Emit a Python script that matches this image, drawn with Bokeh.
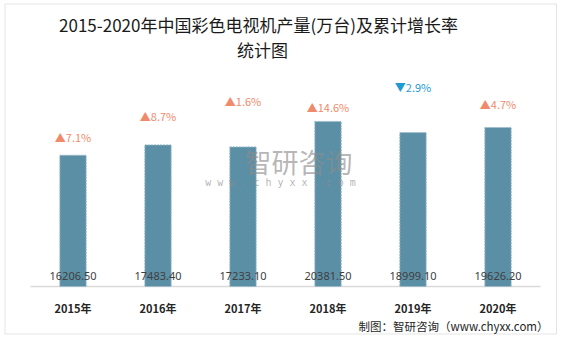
from bokeh.plotting import figure
from bokeh.models import ColumnDataSource, LabelSet, Label, BoxAnnotation, Range1d
from bokeh.core.properties import value
from bokeh.embed import file_html
from bokeh.resources import INLINE

# ---- data ----
years = ["2015年", "2016年", "2017年", "2018年", "2019年", "2020年"]
output = [16206.50, 17483.40, 17233.10, 20381.50, 18999.10, 19626.20]   # 万台
growth = [7.1, 8.7, 1.6, 14.6, -2.9, 4.7]                                 # %
rate_label_anchor = [18400, 21000, 22960, 22100, 24570, 22590]            # hidden series carrying the % labels

# ---- layout constants (pixels) ----
W, H = 562, 338
FL, FR, FT, FB = 30, 540, 60, 286     # plotting band of the category axis / value axis
Y_TOP = 27900                          # value at FT


def dy(py):
    return (FB - py) * Y_TOP / (FB - FT)


def dx(px):
    return (px - FL) * len(years) / (FR - FL)


up_c, down_c = "#F08A6C", "#1E9AD6"
xc = [i + 0.5 for i in range(len(years))]
src = ColumnDataSource(dict(
    x=xc,
    year=years,
    output=output,
    out_text=["%.2f" % v for v in output],
    anchor=rate_label_anchor,
    rate_text=[("▲" if g >= 0 else "▼") + "%.1f%%" % abs(g) for g in growth],
    rate_color=[up_c if g >= 0 else down_c for g in growth],
))

p = figure(x_range=Range1d(dx(0), dx(W)), y_range=Range1d(dy(H), dy(0)),
           width=W, height=H, output_backend="svg", toolbar_location=None,
           x_axis_location=None, y_axis_location=None,
           min_border=0, min_border_left=0, min_border_right=0,
           min_border_top=0, min_border_bottom=0)
p.outline_line_color = None
p.grid.visible = False
p.background_fill_color = "white"
p.border_fill_color = "white"

# outer border
p.add_layout(BoxAnnotation(left=dx(4.5), right=dx(556), top=dy(3.5), bottom=dy(333.5),
                           fill_color=None, line_color="#A6A6A6", line_width=1))

# category axis line
p.segment(x0=[0], y0=[0], x1=[len(years)], y1=[0], line_color="#D9D9D9", line_width=1.5)

p.vbar(x="x", top="output", width=0.31, source=src,
       fill_color="#5B8FA6", line_color="#9DBCCB", line_dash="2 1", line_width=1)

# category labels
p.add_layout(LabelSet(x="x", y=dy(307), text="year", source=src,
                      text_align="center", text_baseline="middle",
                      text_font=value("Noto Sans CJK SC"), text_font_style="bold",
                      text_font_size="11px", text_color="#262626"))

p.add_layout(LabelSet(x="x", y=0, text="out_text", source=src, y_offset=11,
                      text_align="center", text_baseline="middle",
                      text_font=value("Noto Sans"), text_font_size="11px", text_color="#404040"))
p.add_layout(LabelSet(x="x", y="anchor", text="rate_text", source=src,
                      text_align="center", text_baseline="middle",
                      text_font=value("Noto Sans CJK SC"), text_font_size="11px", text_color="rate_color"))

# watermark
p.add_layout(Label(x=dx(298), y=dy(161), text="智研咨询", text_align="center", text_baseline="middle",
                   text_font="Noto Sans CJK SC", text_font_size="27px", text_color="#8C8C8C", text_alpha=0.65))
p.add_layout(Label(x=dx(280), y=dy(182), text="w w w . c h y x x . c o m", text_align="center",
                   text_baseline="middle", text_font="DejaVu Sans Mono", text_font_size="10px",
                   text_color="#8C8C8C", text_alpha=0.65))

# titles
p.add_layout(Label(x=dx(258), y=dy(24), text="2015-2020年中国彩色电视机产量(万台)及累计增长率",
                   text_align="center", text_baseline="middle", text_font="Noto Sans CJK SC",
                   text_font_size="17px", text_color="#1A1A1A"))
p.add_layout(Label(x=dx(262), y=dy(49), text="统计图",
                   text_align="center", text_baseline="middle", text_font="Noto Sans CJK SC",
                   text_font_size="17px", text_color="#1A1A1A"))

# source
p.add_layout(Label(x=dx(548), y=dy(325), text="制图：智研咨询（www.chyxx.com）",
                   text_align="right", text_baseline="middle", text_font="Noto Sans CJK SC",
                   text_font_size="11.5px", text_color="#262626"))

open("out.html", "w").write(file_html(p, INLINE))
